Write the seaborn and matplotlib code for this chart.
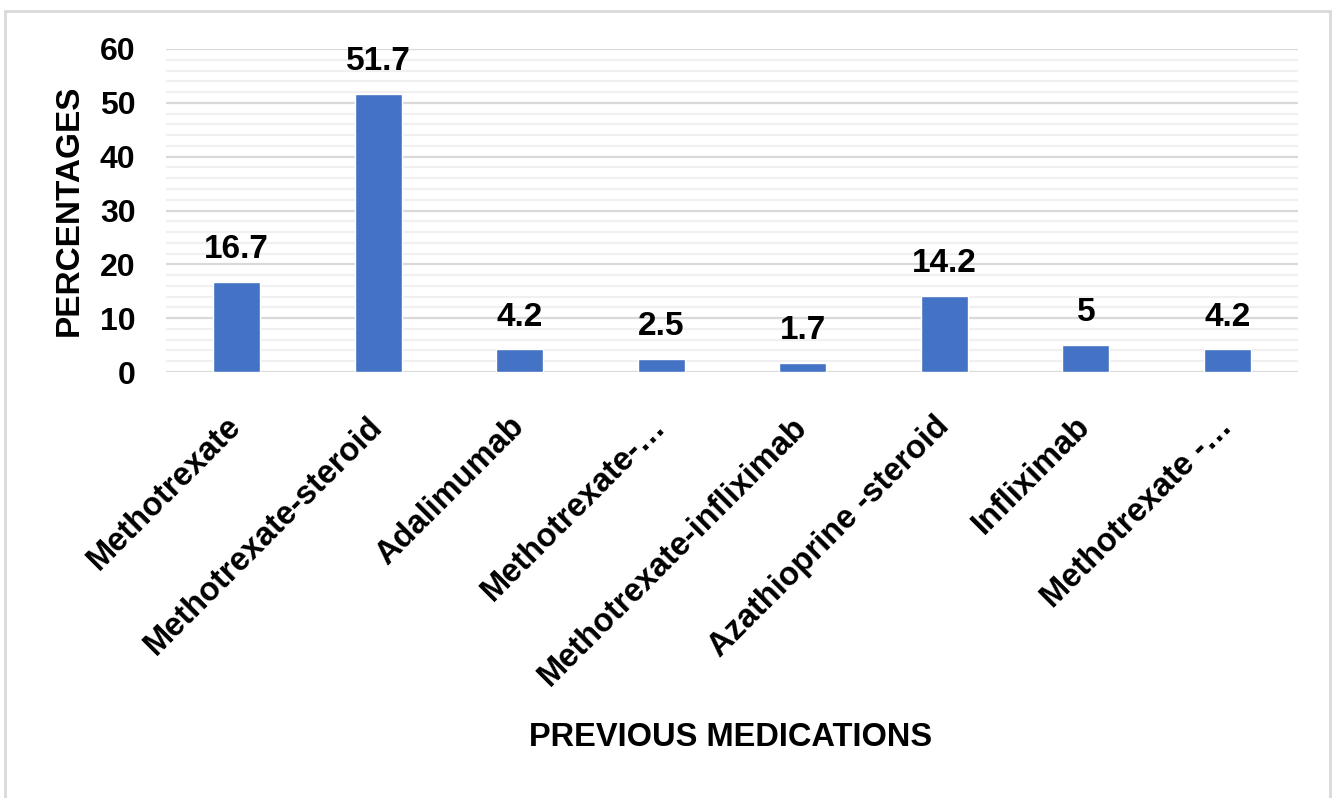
import matplotlib
matplotlib.use("Agg")
import matplotlib.pyplot as plt
import seaborn as sns
import pandas as pd
from matplotlib.ticker import MultipleLocator
from matplotlib.patches import Rectangle

# chart data
medications = ["Methotrexate", "Methotrexate-steroid", "Adalimumab", "Methotrexate-…",
               "Methotrexate-infliximab", "Azathioprine -steroid", "Infliximab", "Methotrexate -…"]
percentages = [16.7, 51.7, 4.2, 2.5, 1.7, 14.2, 5, 4.2]
value_labels = ["16.7", "51.7", "4.2", "2.5", "1.7", "14.2", "5", "4.2"]
y_ticks = [0, 10, 20, 30, 40, 50, 60]

df = pd.DataFrame({"medication": medications, "pct": percentages})

sns.set_style("white")
plt.rcParams["font.family"] = ["Liberation Sans", "DejaVu Sans"]
plt.rcParams["font.weight"] = "bold"
for k in ["text.color", "axes.labelcolor", "xtick.color", "ytick.color"]:
    plt.rcParams[k] = "black"

fig = plt.figure(figsize=(13.32, 7.98), dpi=100)
ax = fig.add_axes([166 / 1332, 1 - 372 / 798, 1132 / 1332, 323 / 798])

sns.barplot(data=df, x="medication", y="pct", color="#4472C4", saturation=1,
            width=0.33, ax=ax, zorder=3)

ax.set_xlim(-0.5, len(medications) - 0.5)
ax.set_ylim(0, 60)
ax.set_yticks(y_ticks)
ax.yaxis.set_minor_locator(MultipleLocator(2))
ax.grid(which="major", axis="y", color="#d9d9d9", linewidth=1.6, zorder=0)
ax.grid(which="minor", axis="y", color="#f0f0f0", linewidth=1.6, zorder=0)
ax.set_axisbelow(True)
for s in ax.spines.values():
    s.set_visible(False)

ax.tick_params(axis="y", which="both", length=0, pad=22, labelsize=23)
ax.tick_params(axis="x", length=0, pad=36)
ax.set_yticklabels([str(t) for t in y_ticks], fontweight="bold")
ax.set_xticks(range(len(medications)))
ax.set_xticklabels(medications, rotation=45, ha="right", va="center",
                   rotation_mode="anchor", fontsize=23.5, fontweight="bold")

for i, (v, lab) in enumerate(zip(percentages, value_labels)):
    ax.annotate(lab, (i, v), xytext=(0, 17), textcoords="offset points",
                ha="center", va="baseline", fontsize=24, fontweight="bold")

ax.set_ylabel("PERCENTAGES", fontsize=24, fontweight="bold", va="center")
ax.yaxis.set_label_coords((69 - 166) / 1132, 0.5)
ax.set_xlabel("PREVIOUS MEDICATIONS", fontsize=23.5, fontweight="bold", va="center")
ax.xaxis.set_label_coords(0.4987, (372 - 737) / 323)

# light outer frame
fig.patches.append(Rectangle((5 / 1332, -0.01), 1325 / 1332, 1 - 11 / 798 + 0.01,
                             transform=fig.transFigure, fill=False,
                             edgecolor="#d9d9d9", linewidth=2))

fig.savefig("out.png", dpi=100)
